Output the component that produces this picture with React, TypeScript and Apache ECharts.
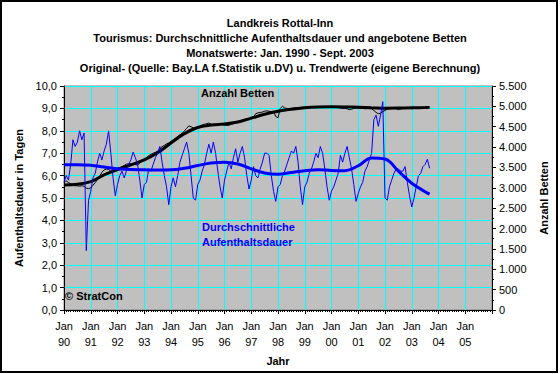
import React, { useEffect, useRef } from "react";
import * as echarts from "echarts";

// Tick labels (January of each year)
const yearLabels = ["90", "91", "92", "93", "94", "95", "96", "97", "98", "99", "00", "01", "02", "03", "04", "05"];

// Title lines
const titleLines = [
  "Landkreis Rottal-Inn",
  "Tourismus: Durchschnittliche Aufenthaltsdauer und angebotene Betten",
  "Monatswerte: Jan. 1990 - Sept. 2003",
  "Original- (Quelle: Bay.LA f.Statistik u.DV) u. Trendwerte (eigene Berechnung)",
];

// Durchschnittliche Aufenthaltsdauer (Tage), monthly Jan 1990 - Sep 2003
const dauerMonthly = [
  5.7, 6.0, 5.8, 6.5, 7.6, 7.3, 7.5, 8.0, 7.6, 7.9, 2.65, 4.9,
  5.3, 5.9, 6.1, 6.6, 7.0, 6.7, 7.1, 7.4, 8.0, 7.0, 5.9, 5.1,
  5.6, 6.0, 6.2, 5.9, 6.2, 6.5, 6.7, 7.05, 6.8, 6.5, 5.8, 5.0,
  5.6, 5.7, 6.3, 6.2, 6.5, 6.8, 7.0, 7.3, 6.6, 6.0, 5.5, 4.7,
  5.5, 5.9, 5.5, 6.0, 6.6, 6.9, 7.2, 7.5, 7.0, 6.0, 5.0, 4.9,
  5.6, 5.8, 6.2, 6.5, 7.0, 7.4, 7.0, 7.5, 7.0, 6.2, 5.5, 5.0,
  5.8, 6.2, 6.6, 6.3, 6.8, 7.2, 6.6, 7.0, 7.3, 6.8, 6.0, 5.4,
  5.8, 6.4, 6.0, 5.9, 6.3, 6.6, 7.0, 7.0, 6.9, 6.0, 5.3, 4.85,
  5.5, 5.6, 6.0, 6.2, 6.5, 6.8, 7.1, 7.0, 7.3, 6.6, 5.5, 4.7,
  5.5, 5.7, 6.1, 6.3, 6.6, 7.0, 6.8, 7.3, 7.0, 6.3, 5.5, 4.9,
  5.3, 5.5, 5.8, 6.1, 6.9, 6.6, 7.0, 7.3, 6.8, 6.3, 5.6, 4.85,
  5.2, 5.5, 5.7, 6.2, 6.4, 6.7, 7.0, 8.5, 8.7, 8.2, 8.7, 9.3,
  5.0, 4.9, 5.5, 5.8, 6.1, 6.3, 6.3, 6.2, 6.2, 6.4, 5.7, 5.1,
  4.6, 5.0, 5.5, 6.0, 6.1, 6.4, 6.5, 6.73, 6.33,
];

// Trend of Aufenthaltsdauer, sampled every 6 months (month index, value)
const dauerTrendMonths = [0, 6, 12, 18, 24, 30, 36, 42, 48, 54, 60, 66, 72, 78, 84, 90, 96, 102, 108, 114, 120, 126, 132, 138, 144, 150, 156, 162, 164];
const dauerTrendValues = [6.48, 6.48, 6.46, 6.38, 6.31, 6.27, 6.26, 6.25, 6.26, 6.33, 6.45, 6.56, 6.6, 6.52, 6.3, 6.12, 6.06, 6.14, 6.22, 6.26, 6.23, 6.22, 6.44, 6.79, 6.74, 6.2, 5.66, 5.28, 5.17];

// Anzahl Betten, monthly Jan 1990 - Sep 2003
const bettenMonthly = [
  3150, 3170, 3130, 3100, 3060, 3050, 3050, 3040, 3050, 3040, 2990, 2980,
  3000, 3060, 3130, 3200, 3280, 3380, 3440, 3460, 3450, 3410, 3420, 3460,
  3480, 3500, 3520, 3550, 3580, 3590, 3590, 3580, 3570, 3560, 3600, 3680,
  3700, 3740, 3790, 3820, 3850, 3870, 3900, 3960, 4010, 4040, 4080, 4100,
  4140, 4180, 4220, 4260, 4300, 4340, 4400, 4460, 4520, 4500, 4470, 4470,
  4490, 4520, 4545, 4560, 4575, 4590, 4560, 4540, 4540, 4545, 4550, 4545,
  4535, 4530, 4535, 4560, 4575, 4590, 4620, 4640, 4660, 4680, 4690, 4700,
  4710, 4740, 4820, 4840, 4850, 4860, 4880, 4890, 4880, 4870, 4880, 4750,
  4720, 4950, 5000, 4960, 4950, 4940, 4950, 4960, 4965, 4970, 4975, 4980,
  4980, 4985, 4990, 4990, 4995, 4995, 4990, 4990, 4985, 4980, 4985, 4990,
  4990, 4985, 4980, 4970, 4960, 4950, 4950, 4940, 4920, 4930, 4950, 4960,
  4960, 4950, 4950, 4940, 4945, 4945, 4940, 4900, 4850, 4820, 4830, 4870,
  4900, 4930, 4940, 4945, 4950, 4945, 4920, 4935, 4950, 4950, 4955, 4955,
  4940, 4950, 4960, 4965, 4970, 4975, 4975, 4980, 4980,
];

// Trend of Betten, sampled every 6 months
const bettenTrendMonths = [0, 6, 12, 18, 24, 30, 36, 42, 48, 54, 60, 66, 72, 78, 84, 90, 96, 102, 108, 114, 120, 126, 132, 138, 144, 150, 156, 162, 164];
const bettenTrendValues = [3072, 3085, 3150, 3320, 3445, 3565, 3685, 3860, 4100, 4330, 4480, 4540, 4570, 4615, 4710, 4805, 4880, 4930, 4965, 4985, 4990, 4987, 4980, 4968, 4955, 4958, 4965, 4972, 4975];

const FONT = "'Liberation Sans', Arial, sans-serif";

export default function App() {
  const ref = useRef<HTMLDivElement>(null);

  useEffect(() => {
    if (!ref.current) return;
    const chart = echarts.init(ref.current, null, { renderer: "svg" });
    const option: any = {
      animation: false,
      backgroundColor: "#ffffff",
      textStyle: { fontFamily: FONT },
      grid: {
        left: 64,
        right: 68,
        top: 86,
        bottom: 64,
        show: true,
        backgroundColor: "#C0C0C0",
        borderColor: "#808080",
        borderWidth: 1,
      },
      xAxis: {
        type: "value",
        min: 0,
        max: 192,
        interval: 12,
        name: "Jahr",
        nameLocation: "middle",
        nameGap: 45,
        nameTextStyle: { fontFamily: FONT, fontSize: 11, fontWeight: "bold", color: "#000" },
        axisLine: { show: true, lineStyle: { color: "#000", width: 1 } },
        axisTick: { show: true, length: 4, lineStyle: { color: "#000" } },
        minorTick: { show: true, splitNumber: 12, length: 2, lineStyle: { color: "#000" } },
        splitLine: { show: true, lineStyle: { color: "#00FFFF", width: 1 } },
        axisLabel: {
          color: "#000",
          fontFamily: FONT,
          fontSize: 11,
          lineHeight: 16,
          margin: 8,
          showMaxLabel: false,
          formatter: (v: number) => {
            const i = Math.round(v / 12);
            return i < yearLabels.length ? "Jan\n" + yearLabels[i] : "";
          },
        },
      },
      yAxis: [
        {
          type: "value",
          min: 0,
          max: 10,
          interval: 1,
          position: "left",
          name: "Aufenthaltsdauer in Tagen",
          nameLocation: "middle",
          nameRotate: 90,
          nameGap: 39,
          nameTextStyle: { fontFamily: FONT, fontSize: 11, fontWeight: "bold", color: "#000" },
          axisLine: { show: true, lineStyle: { color: "#000", width: 1 } },
          axisTick: { show: true, length: 4, lineStyle: { color: "#000" } },
          minorTick: { show: true, splitNumber: 2, length: 2, lineStyle: { color: "#000" } },
          splitLine: { show: true, lineStyle: { color: "#00FFFF", width: 1 } },
          axisLabel: {
            color: "#000",
            fontFamily: FONT,
            fontSize: 11,
            margin: 7,
            formatter: (v: number) => v.toFixed(1).replace(".", ","),
          },
        },
        {
          type: "value",
          min: 0,
          max: 5500,
          interval: 500,
          position: "right",
          name: "Anzahl Betten",
          nameLocation: "middle",
          nameRotate: 90,
          nameGap: 46,
          nameTextStyle: { fontFamily: FONT, fontSize: 11, fontWeight: "bold", color: "#000" },
          axisLine: { show: true, lineStyle: { color: "#000", width: 1 } },
          axisTick: { show: true, length: 4, lineStyle: { color: "#000" } },
          minorTick: { show: true, splitNumber: 2, length: 2, lineStyle: { color: "#000" } },
          splitLine: { show: false },
          axisLabel: {
            color: "#000",
            fontFamily: FONT,
            fontSize: 11,
            margin: 7,
            formatter: (v: number) => String(v).replace(/\B(?=(\d{3})+(?!\d))/g, "."),
          },
        },
      ],
      series: [
        {
          type: "line",
          yAxisIndex: 1,
          data: bettenMonthly.map((v, i) => [i, v]),
          symbol: "none",
          lineStyle: { color: "#000000", width: 1 },
          z: 2,
        },
        {
          type: "line",
          yAxisIndex: 1,
          data: bettenTrendMonths.map((m, i) => [m, bettenTrendValues[i]]),
          symbol: "none",
          smooth: 0.4,
          lineStyle: { color: "#000000", width: 3 },
          z: 3,
        },
        {
          type: "line",
          yAxisIndex: 0,
          data: dauerMonthly.map((v, i) => [i, v]),
          symbol: "none",
          lineStyle: { color: "#0000FF", width: 1 },
          z: 4,
        },
        {
          type: "line",
          yAxisIndex: 0,
          data: dauerTrendMonths.map((m, i) => [m, dauerTrendValues[i]]),
          symbol: "none",
          smooth: 0.4,
          lineStyle: { color: "#0000FF", width: 3 },
          z: 5,
        },
      ],
      graphic: [
        {
          type: "rect",
          shape: { x: 1, y: 1, width: 556, height: 371 },
          style: { fill: "none", stroke: "#000", lineWidth: 2 },
          silent: true,
          z: 100,
        },
        {
          type: "text",
          x: 280,
          y: 15,
          style: {
            text: titleLines.join("\n"),
            fill: "#000",
            font: "bold 11px " + FONT,
            lineHeight: 15,
            textAlign: "center",
            textVerticalAlign: "top",
          },
          z: 100,
        },
        {
          type: "text",
          x: 201,
          y: 93,
          style: { text: "Anzahl Betten", fill: "#000", font: "bold 11px " + FONT, textVerticalAlign: "middle" },
          z: 100,
        },
        {
          type: "text",
          x: 202,
          y: 219,
          style: {
            text: "Durchschnittliche\nAufenthaltsdauer",
            fill: "#0000FF",
            font: "bold 11px " + FONT,
            lineHeight: 15.5,
            textVerticalAlign: "top",
          },
          z: 100,
        },
        {
          type: "text",
          x: 65,
          y: 296,
          style: { text: "© StratCon", fill: "#000", font: "bold 11px " + FONT, textVerticalAlign: "middle" },
          z: 100,
        },
      ],
    };
    chart.setOption(option);
    return () => chart.dispose();
  }, []);

  return <div ref={ref} style={{ position: "fixed", left: 0, top: 0, width: 560, height: 374 }} />;
}
